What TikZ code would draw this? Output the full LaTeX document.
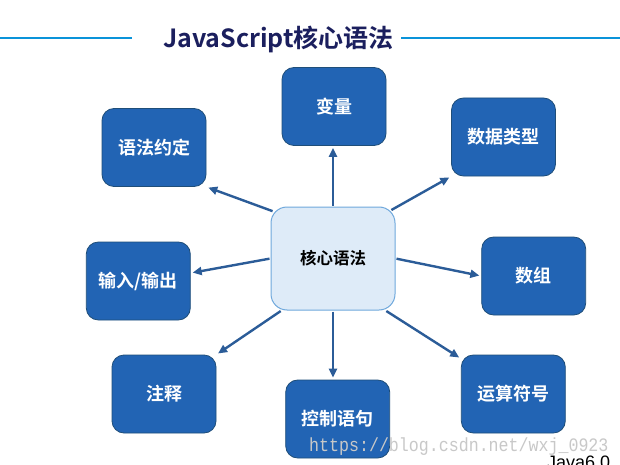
\documentclass[tikz,border=0pt]{standalone}
\usepackage{fontspec}
\setmainfont{Noto Sans CJK SC}[BoldFont={Noto Sans CJK SC Bold}]
\newfontfamily\wmfont{Liberation Mono}
\newfontfamily\javafont{Liberation Sans}
\usetikzlibrary{arrows.meta}
\definecolor{boxblue}{HTML}{2264B4}
\definecolor{boxedge}{HTML}{1F4E79}
\definecolor{cfill}{HTML}{DEEBF8}
\definecolor{cedge}{HTML}{6FA8DC}
\definecolor{arrowblue}{HTML}{2B5C98}
\definecolor{titlenavy}{HTML}{1B1F5E}
\definecolor{rulecol}{HTML}{0A93D9}
\definecolor{wmgray}{HTML}{C8C8C8}
\begin{document}
\begin{tikzpicture}[x=1pt,y=-1pt,
  sat/.style={draw=boxedge, line width=0.8pt, fill=boxblue, rounded corners=12pt,
    minimum width=104pt, minimum height=78pt, text=white, inner sep=0pt,
    font=\bfseries\fontsize{18}{21}\selectfont},
  core/.style={draw=cedge, line width=1pt, fill=cfill, rounded corners=16pt,
    minimum width=124pt, minimum height=103pt, inner sep=0pt,
    font=\bfseries\fontsize{16.5}{19}\selectfont},
  link/.style={draw=arrowblue, line width=2.4pt, -{Triangle[length=9pt,width=8pt]},
    shorten <=1pt, shorten >=2pt},
  rulestyle/.style={draw=rulecol, line width=2.5pt}]
\useasboundingbox[fill=white] (0,0) rectangle (620,465);

% title and rules
\node[anchor=base, text=titlenavy, font=\bfseries\fontsize{25}{29}\selectfont, inner sep=0pt]
  (title) at (278.5,47.5) {JavaScript核心语法};
\coordinate (rl0) at (0,38);
\coordinate (rl1) at (132,38);
\coordinate (rr0) at (401,38);
\coordinate (rr1) at (620,38);
\draw[rulestyle] (rl0) -- (rl1);
\draw[rulestyle] (rr0) -- (rr1);

% nodes
\node[core] (core) at (333,258.5) {核心语法};
\node[sat] (var)  at (334,106.5) {变量};
\node[sat] (type) at (503.5,137) {数据类型};
\node[sat] (syn)  at (154,147.5) {语法约定};
\node[sat] (io)   at (138.3,281) {输入/输出};
\node[sat] (arr)  at (533.7,276) {数组};
\node[sat] (cmt)  at (164,394) {注释};
\node[sat] (ctrl) at (337.7,419) {控制语句};
\node[sat] (op)   at (513.3,394) {运算符号};

% connectors
\draw[link] (core.north) -- (core.north |- var.south);
\draw[link] ([xshift=-5pt,yshift=-4pt]core.north east) -- (type.south west);
\draw[link] ([xshift=3pt,yshift=-5pt]core.north west) -- (syn.south east);
\draw[link] (core.west) -- ([yshift=8pt]io.east);
\draw[link] (core.east) -- (arr.west);
\draw[link] ([xshift=11pt]core.south west) -- (cmt.north east);
\draw[link] ([xshift=-10pt]core.south east) -- ([yshift=-4pt]op.north west);
\draw[link] (core.south) -- (core.south |- ctrl.north);

% watermark and cut-off footer
\node[anchor=base west, text=wmgray, font=\wmfont\fontsize{19}{22}\selectfont, xscale=0.875, inner sep=0pt]
  (wm) at (309,451) {https://blog.csdn.net/wxj\_0923};
\node[anchor=base west, font=\javafont\fontsize{18}{20}\selectfont, inner sep=0pt]
  (java) at (547,468) {Java6.0};
\end{tikzpicture}
\end{document}
